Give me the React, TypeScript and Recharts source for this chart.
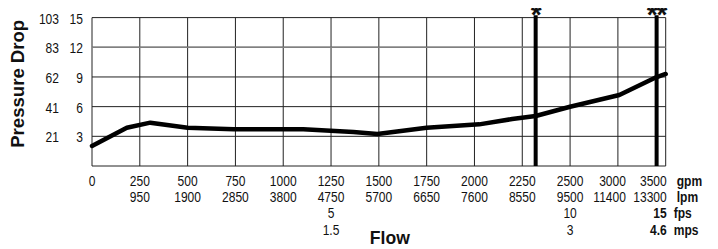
import React from "react";
import { LineChart, Line, XAxis, YAxis, CartesianGrid, ReferenceLine } from "recharts";

const gpmLabels = ["0", "250", "500", "750", "1000", "1250", "1500", "1750", "2000", "2250", "2500", "3000", "3500"];
const lpmLabels = ["", "950", "1900", "2850", "3800", "4750", "5700", "6650", "7600", "8550", "9500", "11400", "13300"];
const fpsLabels = ["", "", "", "", "", "5", "", "", "", "", "10", "", "15"];
const mpsLabels = ["", "", "", "", "", "1.5", "", "", "", "", "3", "", "4.6"];
const psiTicks = [0, 3, 6, 9, 12, 15];
const kpaLabels = ["", "21", "41", "62", "83", "103"];

const flowGpm = [0, 182, 305, 500, 742, 1105, 1367, 1492, 1750, 2025, 2197, 2320, 2500, 3015, 3400, 3500];
const dropPsi = [2.02, 3.87, 4.38, 3.87, 3.71, 3.71, 3.44, 3.23, 3.87, 4.21, 4.75, 5.05, 5.99, 7.18, 8.97, 9.3];

const markerGpm = [2320, 3405];
const markerLabels = ["*", "**"];

// axis position: equal steps of 250 gpm up to 2500, then steps of 500 gpm
const toAxis = (g: number) => (g <= 2500 ? g / 250 : 10 + (g - 2500) / 500);

const data = flowGpm.map((g, i) => ({ pos: toAxis(g), psi: dropPsi[i] }));
const xTicks = gpmLabels.map((_, i) => i);

const FONT = "'Liberation Sans', Arial, sans-serif";
const SX = 0.83;

const T = (p: any) => (
  <text
    transform={`translate(${p.x},${p.y}) scale(${p.sx ?? SX},1)`}
    x={0}
    y={0}
    textAnchor={p.anchor || "start"}
    fontFamily={FONT}
    fontSize={p.size || 14.5}
    fontWeight={p.bold ? "bold" : "normal"}
    fill="#111"
  >
    {p.children}
  </text>
);

const XTick = (props: any) => {
  const { x, y, payload } = props;
  const i = payload.value as number;
  const last = i === gpmLabels.length - 1;
  const preLast = i === gpmLabels.length - 2;
  const anchor = last || preLast ? "end" : "middle";
  const tx = last ? x + 1 : preLast ? x + 8 : x;
  const rows = [20, 36, 52, 69];
  return (
    <g>
      <T x={tx} y={y + rows[0]} anchor={anchor}>{gpmLabels[i]}</T>
      <T x={tx} y={y + rows[1]} anchor={anchor}>{lpmLabels[i]}</T>
      <T x={tx} y={y + rows[2]} anchor={anchor} bold={last}>{fpsLabels[i]}</T>
      <T x={tx} y={y + rows[3]} anchor={anchor} bold={last}>{mpsLabels[i]}</T>
      {last && (
        <g>
          <T x={x + 11} y={y + rows[0]} bold>gpm</T>
          <T x={x + 11} y={y + rows[1]} bold>lpm</T>
          <T x={x + 8} y={y + rows[2]} bold>fps</T>
          <T x={x + 8} y={y + rows[3]} bold>mps</T>
        </g>
      )}
    </g>
  );
};

const YTick = (props: any) => {
  const { y, payload } = props;
  const idx = psiTicks.indexOf(payload.value);
  if (payload.value === 0) return null;
  return (
    <g>
      <T x={59} y={y + 6} anchor="end">{kpaLabels[idx]}</T>
      <T x={83} y={y + 6} anchor="end">{String(payload.value)}</T>
    </g>
  );
};

export default function App() {
  return (
    <div style={{ position: "relative", left: -8, top: -8, width: 718, height: 249, background: "#fff" }}>
      <LineChart
        width={718}
        height={249}
        data={data}
        margin={{ top: 17.6, right: 52.3, bottom: 0, left: 0 }}
      >
        <CartesianGrid stroke="#222" strokeWidth={1} />
        <XAxis
          dataKey="pos"
          type="number"
          domain={[0, 12]}
          ticks={xTicks}
          interval={0}
          axisLine={false}
          tickLine={false}
          tickSize={0}
          tickMargin={0}
          height={83}
          tick={<XTick />}
          label={{
            content: (p: any) => {
              const vb = p.viewBox;
              return (
                <text
                  x={vb.x + vb.width / 2 + 11}
                  y={vb.y + 78}
                  textAnchor="middle"
                  fontFamily={FONT}
                  fontWeight="bold"
                  fontSize={18}
                  fill="#111"
                  textLength={40}
                  lengthAdjust="spacingAndGlyphs"
                >
                  Flow
                </text>
              );
            },
          }}
        />
        <YAxis
          type="number"
          domain={[0, 15]}
          ticks={psiTicks}
          interval={0}
          axisLine={false}
          tickLine={false}
          width={92}
          tick={<YTick />}
          label={{
            content: (p: any) => {
              const vb = p.viewBox;
              const cy = vb.y + vb.height / 2 - 8;
              return (
                <g>
                  <text
                    x={0}
                    y={0}
                    transform={`translate(${24},${cy}) rotate(-90)`}
                    textAnchor="middle"
                    fontFamily={FONT}
                    fontWeight="bold"
                    fontSize={18.5}
                    fill="#111"
                    textLength={128}
                    lengthAdjust="spacingAndGlyphs"
                  >
                    Pressure Drop
                  </text>
                  <T x={59} y={1} anchor="end" bold>kPa</T>
                  <T x={83} y={1} anchor="end" bold>psi</T>
                </g>
              );
            },
          }}
        />
        <ReferenceLine y={12} stroke="#808080" strokeWidth={1.5} />
        {markerGpm.map((g, i) => (
          <ReferenceLine
            key={i}
            segment={[{ x: toAxis(g), y: 0 }, { x: toAxis(g), y: 15.25 }]}
            ifOverflow="visible"
            stroke="#000"
            strokeWidth={4}
            label={{
              content: (p: any) => {
                const vb = p.viewBox;
                return (
                  <text
                    x={vb.x}
                    y={24}
                    textAnchor="middle"
                    fontFamily={FONT}
                    fontSize={28}
                    fontWeight="bold"
                    letterSpacing={-1}
                    fill="#111"
                  >
                    {markerLabels[i]}
                  </text>
                );
              },
            }}
          />
        ))}
        <Line
          type="linear"
          dataKey="psi"
          stroke="#000"
          strokeWidth={4.5}
          strokeLinejoin="round"
          strokeLinecap="round"
          dot={false}
          isAnimationActive={false}
        />
      </LineChart>
    </div>
  );
}
